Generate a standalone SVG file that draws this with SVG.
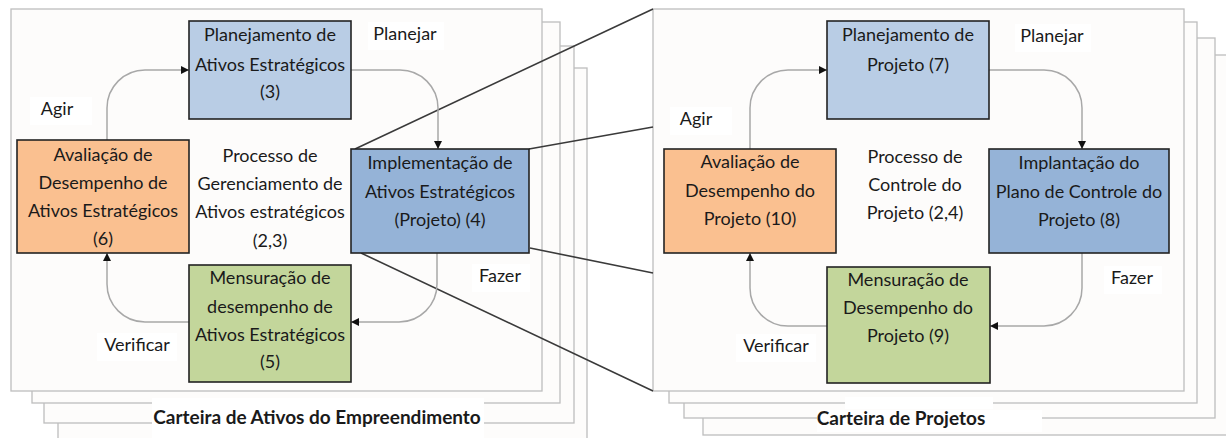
<svg xmlns="http://www.w3.org/2000/svg" width="1226" height="438" viewBox="0 0 1226 438">
<style>
.frame{fill:#fdfcfb;stroke:#bdbdbd;stroke-width:1.3}
.node{stroke:#222;stroke-width:1.6}
.b1{fill:#b9cde5}.b2{fill:#95b3d7}.or{fill:#fac090}.gr{fill:#c3d69b}
text{font-family:Lato,"Liberation Sans",sans-serif;font-size:18px;fill:#1a1a1a;text-anchor:middle}
.lbl{font-weight:bold;font-size:19px}
.conn{fill:none;stroke:#a8a8a8;stroke-width:1.5;marker-end:url(#ah)}
.zoom{stroke:#3a3a3a;stroke-width:1.6;fill:none}
.lbg{fill:#fff}
</style>
<defs>
<marker id="ah" markerUnits="userSpaceOnUse" markerWidth="8" markerHeight="8" refX="8" refY="4" orient="auto">
<path d="M0,0 L8,4 L0,8 z" fill="#111"/>
</marker>
</defs>
<rect width="1226" height="438" fill="#fff"/>
<g id="frames-left">
<rect class="frame" x="58" y="68" width="529" height="400"/>
<rect class="frame" x="44" y="46" width="530" height="377"/>
<rect class="frame" x="32" y="22" width="528" height="381"/>
<rect class="frame" x="11" y="9" width="531" height="382"/>
<rect class="lbg" x="152" y="398" width="332" height="40"/>
<text class="lbl" x="317" y="424">Carteira de Ativos do Empreendimento</text>
</g>
<g id="frames-right">
<rect class="frame" x="703" y="55" width="600" height="380"/>
<rect class="frame" x="684" y="38" width="531" height="380"/>
<rect class="frame" x="669" y="22" width="528" height="381"/>
<rect class="frame" x="653" y="9" width="531" height="382"/>
<rect class="lbg" x="845" y="397" width="148" height="12"/>
<rect class="lbg" x="817" y="410" width="225" height="22"/>
<text class="lbl" x="901" y="425">Carteira de Projetos</text>
</g>
<g id="connectors">
<path class="zoom" d="M355,149 L653,9 M529,149 L653,127 M530,248 L653,273 M361,253 L653,391"/>
<path class="conn" d="M107,140 V108 A38,38 0 0 1 145,70 H189"/>
<path class="conn" d="M351,70 H400 A38,38 0 0 1 438,108 V149"/>
<path class="conn" d="M437,253 V284 A38,38 0 0 1 399,322 H351"/>
<path class="conn" d="M189,322 H145 A38,38 0 0 1 107,284 V253"/>
<path class="conn" d="M750,149 V108 A38,38 0 0 1 788,70 H827"/>
<path class="conn" d="M989,70 H1044 A38,38 0 0 1 1082,108 V149"/>
<path class="conn" d="M1082,253 V288 A38,38 0 0 1 1044,326 H990"/>
<path class="conn" d="M827,326 H788 A38,38 0 0 1 750,288 V253"/>
</g>
<g id="labels-left">
<rect class="lbg" x="368" y="22" width="76" height="28"/>
<text x="405" y="40">Planejar</text>
<rect class="lbg" x="30" y="97" width="62" height="28"/>
<text x="57" y="115">Agir</text>
<rect class="lbg" x="472" y="264" width="58" height="28"/>
<text x="500" y="282">Fazer</text>
<rect class="lbg" x="97" y="333" width="80" height="28"/>
<text x="137" y="351">Verificar</text>
<text x="270" y="162">Processo de</text>
<text x="270" y="190">Gerenciamento de</text>
<text x="270" y="218">Ativos estratégicos</text>
<text x="270" y="247">(2,3)</text>
</g>
<g id="n3"><rect class="node b1" x="189" y="21" width="162" height="98"/>
<text x="270" y="41">Planejamento de</text><text x="270" y="71">Ativos Estratégicos</text><text x="270" y="98">(3)</text></g>
<g id="n4"><rect class="node b2" x="351" y="149" width="178" height="104"/>
<text x="440" y="169">Implementação de</text><text x="440" y="198">Ativos Estratégicos</text><text x="440" y="226">(Projeto) (4)</text></g>
<g id="n6"><rect class="node or" x="17" y="140" width="172" height="113"/>
<text x="103" y="161">Avaliação de</text><text x="103" y="189">Desempenho de</text><text x="103" y="217">Ativos Estratégicos</text><text x="103" y="245">(6)</text></g>
<g id="n5"><rect class="node gr" x="189" y="265" width="162" height="117"/>
<text x="270" y="284">Mensuração de</text><text x="270" y="313">desempenho de</text><text x="270" y="341">Ativos Estratégicos</text><text x="270" y="368">(5)</text></g>
<g id="labels-right">
<rect class="lbg" x="1015" y="24" width="76" height="28"/>
<text x="1052" y="42">Planejar</text>
<rect class="lbg" x="670" y="107" width="62" height="28"/>
<text x="696" y="125">Agir</text>
<rect class="lbg" x="1104" y="266" width="58" height="28"/>
<text x="1132" y="284">Fazer</text>
<rect class="lbg" x="736" y="334" width="80" height="28"/>
<text x="776" y="352">Verificar</text>
<text x="915" y="163">Processo de</text>
<text x="915" y="191">Controle do</text>
<text x="915" y="219">Projeto (2,4)</text>
</g>
<g id="n7"><rect class="node b1" x="827" y="21" width="162" height="98"/>
<text x="908" y="41">Planejamento de</text><text x="908" y="71">Projeto (7)</text></g>
<g id="n8"><rect class="node b2" x="989" y="149" width="180" height="104"/>
<text x="1079" y="169">Implantação do</text><text x="1079" y="198">Plano de Controle do</text><text x="1079" y="226">Projeto (8)</text></g>
<g id="n10"><rect class="node or" x="664" y="149" width="172" height="104"/>
<text x="750" y="168">Avaliação de</text><text x="750" y="197">Desempenho do</text><text x="750" y="225">Projeto (10)</text></g>
<g id="n9"><rect class="node gr" x="827" y="267" width="163" height="116"/>
<text x="908" y="286">Mensuração de</text><text x="908" y="314">Desempenho do</text><text x="908" y="342">Projeto (9)</text></g>
</svg>
